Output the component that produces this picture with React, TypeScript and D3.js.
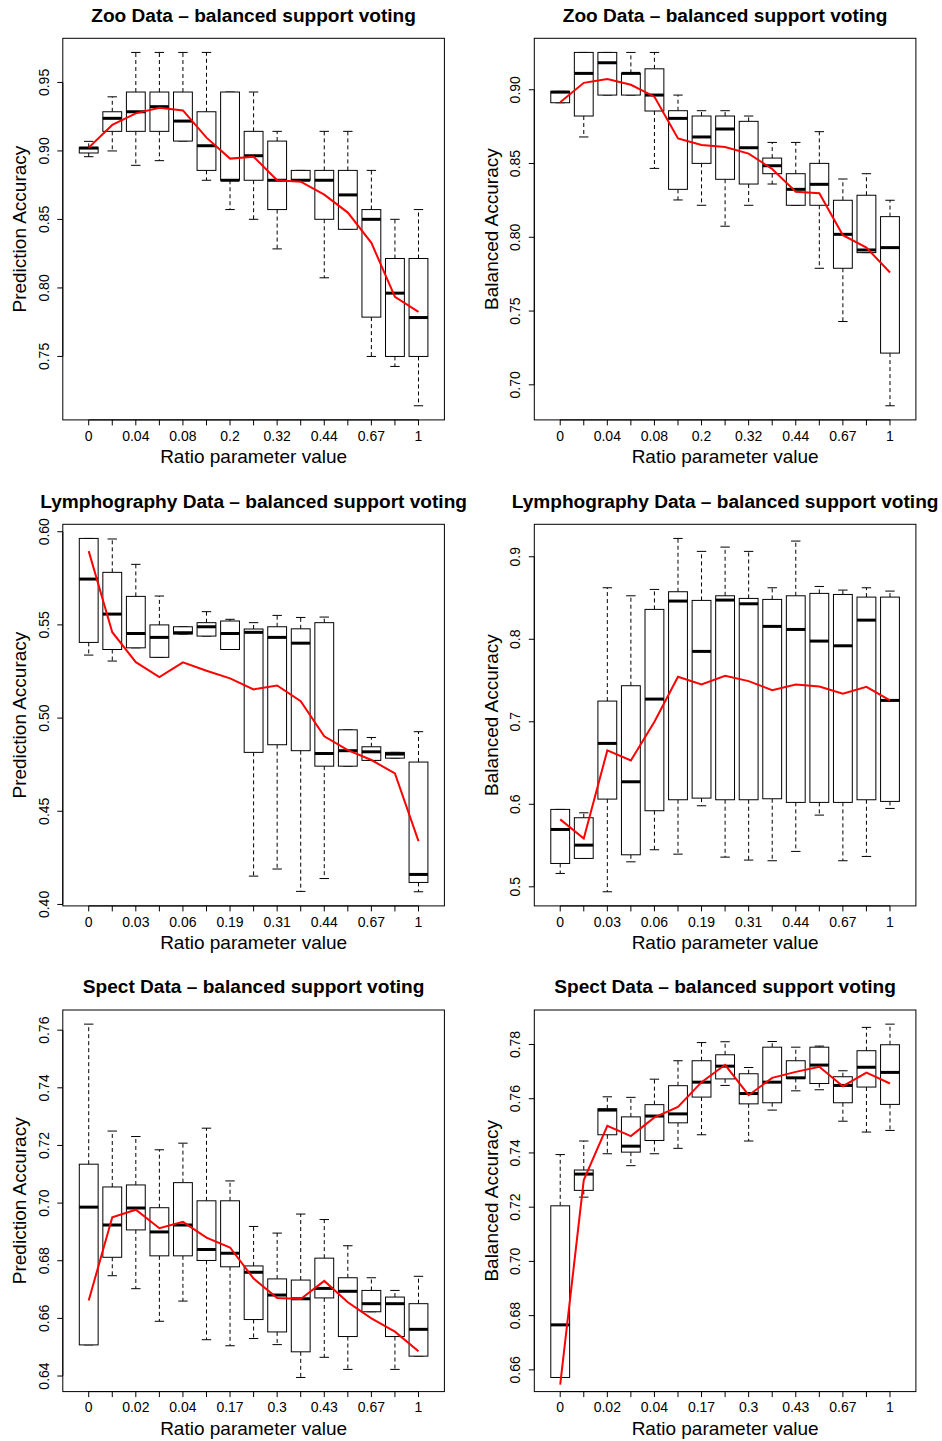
import React from 'react';
import * as d3 from 'd3';

// ---------- categories (ratio parameter values; every other label shown) ----------
const zooCats = ['0', '0.02', '0.04', '0.06', '0.08', '0.1', '0.2', '0.26', '0.32', '0.38', '0.44', '0.55', '0.67', '0.8', '1'];
const lymphCats = ['0', '0.01', '0.03', '0.04', '0.06', '0.12', '0.19', '0.25', '0.31', '0.38', '0.44', '0.55', '0.67', '0.83', '1'];
const spectCats = ['0', '0.01', '0.02', '0.03', '0.04', '0.1', '0.17', '0.23', '0.3', '0.36', '0.43', '0.55', '0.67', '0.83', '1'];

// ---------- Zoo: prediction accuracy ----------
const zooPredLow = [0.8958, 0.9000, 0.8895, 0.8929, 0.9072, 0.8786, 0.8572, 0.8501, 0.8285, 0.8786, 0.8074, 0.8428, 0.7500, 0.7427, 0.7140];
const zooPredQ1 = [0.8985, 0.9143, 0.9143, 0.9143, 0.9072, 0.8858, 0.8786, 0.8786, 0.8572, 0.8786, 0.8501, 0.8428, 0.7787, 0.7500, 0.7500];
const zooPredMed = [0.9021, 0.9238, 0.9286, 0.9323, 0.9218, 0.9038, 0.8786, 0.8965, 0.8786, 0.8786, 0.8786, 0.8679, 0.8501, 0.7962, 0.7784];
const zooPredQ3 = [0.9026, 0.9286, 0.9430, 0.9430, 0.9430, 0.9286, 0.9430, 0.9143, 0.9072, 0.8858, 0.8858, 0.8858, 0.8572, 0.8215, 0.8215];
const zooPredHigh = [0.9070, 0.9395, 0.9719, 0.9719, 0.9719, 0.9719, 0.9430, 0.9430, 0.9143, 0.8858, 0.9143, 0.9143, 0.8858, 0.8501, 0.8572];
const zooPredMean = [0.9024, 0.9190, 0.9274, 0.9315, 0.9296, 0.9097, 0.8944, 0.8958, 0.8786, 0.8776, 0.8681, 0.8550, 0.8329, 0.7935, 0.7826];

// ---------- Zoo: balanced accuracy ----------
const zooBalLow = [0.8912, 0.8680, 0.8964, 0.8964, 0.8467, 0.8253, 0.8217, 0.8075, 0.8217, 0.8361, 0.8217, 0.7790, 0.7429, 0.7896, 0.6858];
const zooBalQ1 = [0.8912, 0.8822, 0.8964, 0.8964, 0.8856, 0.8325, 0.8501, 0.8393, 0.8361, 0.8431, 0.8217, 0.8217, 0.7790, 0.7896, 0.7215];
const zooBalMed = [0.8984, 0.9111, 0.9183, 0.9111, 0.8964, 0.8806, 0.8680, 0.8734, 0.8607, 0.8485, 0.8325, 0.8359, 0.8020, 0.7914, 0.7930];
const zooBalQ3 = [0.8989, 0.9253, 0.9253, 0.9111, 0.9142, 0.8858, 0.8822, 0.8822, 0.8786, 0.8537, 0.8431, 0.8501, 0.8251, 0.8285, 0.8140];
const zooBalHigh = [0.8989, 0.9253, 0.9253, 0.9253, 0.9253, 0.8964, 0.8858, 0.8858, 0.8822, 0.8643, 0.8643, 0.8716, 0.8395, 0.8431, 0.8251];
const zooBalMean = [0.8916, 0.9047, 0.9072, 0.9034, 0.8953, 0.8670, 0.8625, 0.8612, 0.8567, 0.8463, 0.8309, 0.8298, 0.8014, 0.7930, 0.7761];

// ---------- Lymphography: prediction accuracy ----------
const lymPredLow = [0.5338, 0.5306, 0.5377, 0.5326, 0.5451, 0.5440, 0.5368, 0.4152, 0.4190, 0.4070, 0.4139, 0.4742, 0.4773, 0.4785, 0.4068];
const lymPredQ1 = [0.5406, 0.5368, 0.5377, 0.5326, 0.5451, 0.5440, 0.5368, 0.4816, 0.4857, 0.4825, 0.4742, 0.4742, 0.4773, 0.4785, 0.4118];
const lymPredMed = [0.5746, 0.5558, 0.5454, 0.5433, 0.5458, 0.5490, 0.5454, 0.5460, 0.5433, 0.5402, 0.4810, 0.4825, 0.4819, 0.4807, 0.4161];
const lymPredQ3 = [0.5964, 0.5782, 0.5653, 0.5500, 0.5490, 0.5512, 0.5521, 0.5478, 0.5490, 0.5479, 0.5512, 0.4937, 0.4846, 0.4816, 0.4764];
const lymPredHigh = [0.5964, 0.5961, 0.5825, 0.5655, 0.5490, 0.5571, 0.5530, 0.5512, 0.5551, 0.5540, 0.5542, 0.4937, 0.4896, 0.4816, 0.4927];
const lymPredMean = [0.5896, 0.5461, 0.5300, 0.5220, 0.5299, 0.5254, 0.5213, 0.5154, 0.5175, 0.5091, 0.4902, 0.4828, 0.4775, 0.4703, 0.4340];

// ---------- Lymphography: balanced accuracy ----------
const lymBalLow = [0.5162, 0.5344, 0.4940, 0.5303, 0.5449, 0.5396, 0.5982, 0.5360, 0.5324, 0.5316, 0.5429, 0.5869, 0.5316, 0.5368, 0.5950];
const lymBalQ1 = [0.5283, 0.5344, 0.6063, 0.5388, 0.5922, 0.6055, 0.6075, 0.6055, 0.6055, 0.6067, 0.6023, 0.6023, 0.6023, 0.6055, 0.6035];
const lymBalMed = [0.5695, 0.5505, 0.6738, 0.6273, 0.7275, 0.8463, 0.7853, 0.8475, 0.8430, 0.8156, 0.8119, 0.7978, 0.7921, 0.8232, 0.7259];
const lymBalQ3 = [0.5938, 0.5837, 0.7251, 0.7437, 0.8362, 0.8576, 0.8471, 0.8527, 0.8495, 0.8483, 0.8527, 0.8556, 0.8543, 0.8511, 0.8511];
const lymBalHigh = [0.5938, 0.5897, 0.8624, 0.8527, 0.8604, 0.9222, 0.9065, 0.9117, 0.9065, 0.8624, 0.9190, 0.8640, 0.8596, 0.8624, 0.8584];
const lymBalMean = [0.5817, 0.5586, 0.6653, 0.6532, 0.7000, 0.7546, 0.7453, 0.7558, 0.7493, 0.7384, 0.7453, 0.7428, 0.7340, 0.7424, 0.7259];

// ---------- Spect: prediction accuracy ----------
const spePredLow = [0.6508, 0.6748, 0.6703, 0.6590, 0.6660, 0.6526, 0.6505, 0.6530, 0.6509, 0.6395, 0.6465, 0.6423, 0.6623, 0.6423, 0.6469];
const spePredQ1 = [0.6508, 0.6812, 0.6907, 0.6817, 0.6817, 0.6801, 0.6779, 0.6596, 0.6553, 0.6484, 0.6671, 0.6537, 0.6623, 0.6537, 0.6469];
const spePredMed = [0.6986, 0.6924, 0.6983, 0.6900, 0.6924, 0.6839, 0.6826, 0.6760, 0.6681, 0.6668, 0.6704, 0.6694, 0.6651, 0.6651, 0.6562];
const spePredQ3 = [0.7135, 0.7056, 0.7063, 0.6984, 0.7071, 0.7008, 0.7008, 0.6782, 0.6737, 0.6733, 0.6809, 0.6741, 0.6697, 0.6674, 0.6651];
const spePredHigh = [0.7621, 0.7250, 0.7231, 0.7185, 0.7208, 0.7260, 0.7077, 0.6919, 0.6896, 0.6962, 0.6943, 0.6852, 0.6741, 0.6697, 0.6746];
const spePredMean = [0.6662, 0.6951, 0.6977, 0.6913, 0.6935, 0.6880, 0.6846, 0.6738, 0.6671, 0.6667, 0.6730, 0.6656, 0.6600, 0.6554, 0.6486];

// ---------- Spect: balanced accuracy ----------
const speBalLow = [0.6572, 0.7237, 0.7397, 0.7353, 0.7397, 0.7417, 0.7467, 0.7649, 0.7444, 0.7558, 0.7629, 0.7633, 0.7517, 0.7477, 0.7483];
const speBalQ1 = [0.6572, 0.7262, 0.7467, 0.7403, 0.7446, 0.7511, 0.7606, 0.7673, 0.7581, 0.7585, 0.7675, 0.7656, 0.7585, 0.7643, 0.7579];
const speBalMed = [0.6766, 0.7322, 0.7558, 0.7425, 0.7536, 0.7544, 0.7661, 0.7720, 0.7619, 0.7661, 0.7677, 0.7724, 0.7649, 0.7716, 0.7697];
const speBalQ3 = [0.7205, 0.7337, 0.7563, 0.7533, 0.7578, 0.7648, 0.7740, 0.7762, 0.7692, 0.7790, 0.7740, 0.7790, 0.7681, 0.7777, 0.7799];
const speBalHigh = [0.7394, 0.7444, 0.7607, 0.7605, 0.7672, 0.7740, 0.7807, 0.7810, 0.7715, 0.7811, 0.7790, 0.7794, 0.7703, 0.7863, 0.7875];
const speBalMean = [0.6546, 0.7300, 0.7500, 0.7462, 0.7531, 0.7570, 0.7661, 0.7725, 0.7613, 0.7677, 0.7699, 0.7718, 0.7646, 0.7696, 0.7656];

const FONT = '"Liberation Sans", Arial, Helvetica, sans-serif';

type PanelProps = {
  ox: number;
  oy: number;
  title: string;
  ylab: string;
  cats: string[];
  low: number[];
  q1: number[];
  med: number[];
  q3: number[];
  high: number[];
  mean: number[];
};

const PL = 62.8;
const PW = 381.6;
const PT = 38.3;
const PH = 381.6;

function Panel({ ox, oy, title, ylab, cats, low, q1, med, q3, high, mean }: PanelProps) {
  const n = cats.length;
  const left = ox + PL;
  const top = oy + PT;
  const bottom = top + PH;
  const right = left + PW;

  const x = d3.scaleLinear().domain([0.5 - 0.04 * n, n + 0.5 + 0.04 * n]).range([left, right]);
  const lo = d3.min(low) as number;
  const hi = d3.max(high) as number;
  const r = hi - lo;
  const d0 = lo - 0.04 * r;
  const d1 = hi + 0.04 * r;
  const y = d3.scaleLinear().domain([d0, d1]).range([bottom, top]);
  const ticks = y.ticks(5);
  const step = d3.tickStep(d0, d1, 5);
  const fmt = d3.format('.' + d3.precisionFixed(step) + 'f');

  const unit = x(2) - x(1);
  const bw = 0.8 * unit;
  const cw = bw / 4;

  const line = d3
    .line<number>()
    .x((_, i) => x(i + 1))
    .y((d) => y(d));

  const cx = (left + right) / 2;
  const cy = (top + bottom) / 2;

  return (
    <g>
      <text x={cx} y={oy + 21.7} textAnchor="middle" fontFamily={FONT} fontWeight="bold" fontSize={19.1} fill="#000">
        {title}
      </text>
      {/* boxes */}
      {cats.map((c, i) => {
        const xc = x(i + 1);
        return (
          <g key={c + i}>
            <line x1={xc} x2={xc} y1={y(q3[i])} y2={y(high[i])} stroke="#000" strokeWidth={1} strokeDasharray="4,3" />
            <line x1={xc} x2={xc} y1={y(q1[i])} y2={y(low[i])} stroke="#000" strokeWidth={1} strokeDasharray="4,3" />
            <line x1={xc - cw} x2={xc + cw} y1={y(high[i])} y2={y(high[i])} stroke="#000" strokeWidth={1} />
            <line x1={xc - cw} x2={xc + cw} y1={y(low[i])} y2={y(low[i])} stroke="#000" strokeWidth={1} />
            <rect
              x={xc - bw / 2}
              y={y(q3[i])}
              width={bw}
              height={Math.max(0.01, y(q1[i]) - y(q3[i]))}
              fill="#fff"
              stroke="#000"
              strokeWidth={1}
            />
            <line x1={xc - bw / 2} x2={xc + bw / 2} y1={y(med[i])} y2={y(med[i])} stroke="#000" strokeWidth={3} />
          </g>
        );
      })}
      {/* mean line */}
      <path d={line(mean) || ''} fill="none" stroke="#ff0000" strokeWidth={2} />
      {/* frame */}
      <rect x={left} y={top} width={PW} height={PH} fill="none" stroke="#000" strokeWidth={1} />
      {/* x axis */}
      <line x1={x(1)} x2={x(n)} y1={bottom} y2={bottom} stroke="#000" strokeWidth={1} />
      {cats.map((c, i) => (
        <g key={'xt' + i}>
          <line x1={x(i + 1)} x2={x(i + 1)} y1={bottom} y2={bottom + 5.5} stroke="#000" strokeWidth={1} />
          {i % 2 === 0 && (
            <text x={x(i + 1)} y={bottom + 20.8} textAnchor="middle" fontFamily={FONT} fontSize={14} fill="#000">
              {c}
            </text>
          )}
        </g>
      ))}
      {/* y axis */}
      <line x1={left} x2={left} y1={y(ticks[0])} y2={y(ticks[ticks.length - 1])} stroke="#000" strokeWidth={1} />
      {ticks.map((t) => (
        <g key={'yt' + t}>
          <line x1={left - 5.5} x2={left} y1={y(t)} y2={y(t)} stroke="#000" strokeWidth={1} />
          <text
            transform={`translate(${ox + 48.8},${y(t)}) rotate(-90)`}
            textAnchor="middle"
            fontFamily={FONT}
            fontSize={14}
            fill="#000"
          >
            {fmt(t)}
          </text>
        </g>
      ))}
      {/* axis titles */}
      <text x={cx} y={oy + 463.3} textAnchor="middle" fontFamily={FONT} fontSize={19} fill="#000">
        Ratio parameter value
      </text>
      <text
        transform={`translate(${ox + 26},${cy}) rotate(-90)`}
        textAnchor="middle"
        fontFamily={FONT}
        fontSize={19}
        fill="#000"
      >
        {ylab}
      </text>
    </g>
  );
}

export default function App() {
  const colX = [0, 471.5];
  const rowY = [0, 486, 971.7];
  return (
    <div style={{ position: 'absolute', left: 0, top: 0 }}>
      <svg width={942} height={1441} viewBox="0 0 942 1441" style={{ display: 'block', background: '#fff' }}>
        <rect x={0} y={0} width={942} height={1441} fill="#fff" />
        <Panel ox={colX[0]} oy={rowY[0]} title="Zoo Data – balanced support voting" ylab="Prediction Accuracy" cats={zooCats}
          low={zooPredLow} q1={zooPredQ1} med={zooPredMed} q3={zooPredQ3} high={zooPredHigh} mean={zooPredMean} />
        <Panel ox={colX[1]} oy={rowY[0]} title="Zoo Data – balanced support voting" ylab="Balanced Accuracy" cats={zooCats}
          low={zooBalLow} q1={zooBalQ1} med={zooBalMed} q3={zooBalQ3} high={zooBalHigh} mean={zooBalMean} />
        <Panel ox={colX[0]} oy={rowY[1]} title="Lymphography Data – balanced support voting" ylab="Prediction Accuracy" cats={lymphCats}
          low={lymPredLow} q1={lymPredQ1} med={lymPredMed} q3={lymPredQ3} high={lymPredHigh} mean={lymPredMean} />
        <Panel ox={colX[1]} oy={rowY[1]} title="Lymphography Data – balanced support voting" ylab="Balanced Accuracy" cats={lymphCats}
          low={lymBalLow} q1={lymBalQ1} med={lymBalMed} q3={lymBalQ3} high={lymBalHigh} mean={lymBalMean} />
        <Panel ox={colX[0]} oy={rowY[2]} title="Spect Data – balanced support voting" ylab="Prediction Accuracy" cats={spectCats}
          low={spePredLow} q1={spePredQ1} med={spePredMed} q3={spePredQ3} high={spePredHigh} mean={spePredMean} />
        <Panel ox={colX[1]} oy={rowY[2]} title="Spect Data – balanced support voting" ylab="Balanced Accuracy" cats={spectCats}
          low={speBalLow} q1={speBalQ1} med={speBalMed} q3={speBalQ3} high={speBalHigh} mean={speBalMean} />
      </svg>
    </div>
  );
}
